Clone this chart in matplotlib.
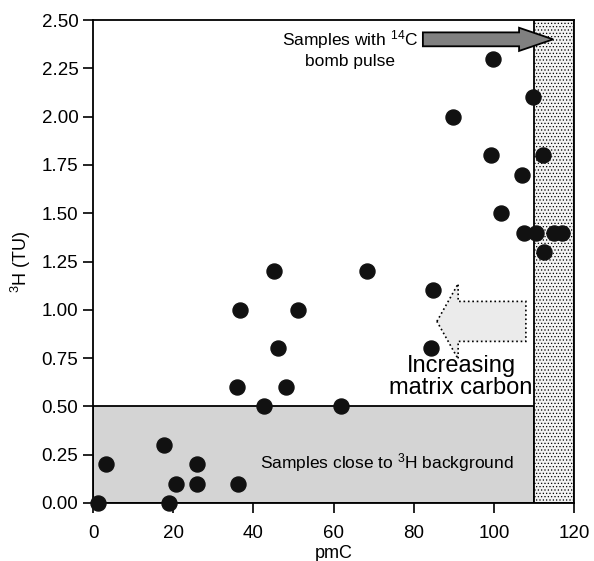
import numpy as np
import matplotlib
matplotlib.use("Agg")
import matplotlib.pyplot as plt
import matplotlib.patches as mpatches

plt.rcParams['font.family'] = ['Liberation Sans', 'DejaVu Sans']
plt.rcParams['mathtext.default'] = 'regular'
plt.rcParams['hatch.linewidth'] = 0.5

# pmC vs tritium samples
pmc = [1.3, 3.2, 17.7, 19.0, 20.8, 26.0, 26.0, 36.1,
       35.9, 36.7, 42.7, 45.2, 46.2, 48.2, 51.1, 61.9, 68.4, 84.3, 84.8,
       99.8, 109.7, 89.7, 99.4, 112.2, 107.0, 101.7, 107.5, 110.5, 115.0, 117.1, 112.5]
tritium = [0.0, 0.2, 0.3, 0.0, 0.1, 0.2, 0.1, 0.1,
           0.6, 1.0, 0.5, 1.2, 0.8, 0.6, 1.0, 0.5, 1.2, 0.8, 1.1,
           2.3, 2.1, 2.0, 1.8, 1.8, 1.7, 1.5, 1.4, 1.4, 1.4, 1.4, 1.3]

background_limit = 0.5   # 3H background threshold
bomb_limit = 110         # pmC above this -> bomb pulse
xticks = [0, 20, 40, 60, 80, 100, 120]
yticks = [0, 0.25, 0.5, 0.75, 1.0, 1.25, 1.5, 1.75, 2.0, 2.25, 2.5]

fig = plt.figure(figsize=(5.94, 5.61), dpi=100)
ax = fig.add_axes([0.1566, 0.1034, 0.8097, 0.8609])

# shaded regions
ax.add_patch(mpatches.Rectangle((0, 0), bomb_limit, background_limit,
                                facecolor='#d4d4d4', edgecolor='black', linewidth=1.3, zorder=1))
ax.add_patch(mpatches.Rectangle((bomb_limit, 0), 120 - bomb_limit, 2.5,
                                facecolor='#f2f2f2', edgecolor='black', hatch='.....',
                                linewidth=1.3, zorder=1))

# arrows
ax.add_patch(mpatches.FancyArrow(82.3, 2.40, 32.5, 0, width=0.072, head_width=0.12,
                                 head_length=8.5, length_includes_head=True,
                                 facecolor='#808080', edgecolor='black', linewidth=1.3, zorder=3))
ax.add_patch(mpatches.FancyArrow(108, 0.94, -22.2, 0, width=0.207, head_width=0.39,
                                 head_length=5.3, length_includes_head=True,
                                 facecolor='#ebebeb', edgecolor='black', linestyle=':',
                                 linewidth=1.2, zorder=2))

ax.scatter(pmc, tritium, s=117, color='#111111', zorder=4, clip_on=False)

ax.text(64.1, 2.35, 'Samples with $^{14}$C\nbomb pulse', ha='center', va='center',
        fontsize=12.5, linespacing=1.25, zorder=5)
ax.text(91.8, 0.65, 'Increasing\nmatrix carbon', ha='center', va='center',
        fontsize=17, linespacing=1.0, zorder=5)
ax.text(73.4, 0.207, 'Samples close to $^{3}$H background', ha='center', va='center',
        fontsize=12.5, zorder=5)

ax.set_xlim(0, 120)
ax.set_ylim(0, 2.5)
ax.set_xticks(xticks)
ax.set_yticks(yticks)
ax.set_yticklabels(['%.2f' % v for v in yticks])
ax.tick_params(labelsize=13.5, length=7, width=1.2, direction='out')
ax.tick_params(axis='x', pad=9)
for s in ax.spines.values():
    s.set_linewidth(1.3)

ax.set_xlabel('pmC', fontsize=13, labelpad=2)
ax.set_ylabel('$^{3}$H (TU)', fontsize=13, labelpad=6)

fig.savefig('out.png', dpi=100)
